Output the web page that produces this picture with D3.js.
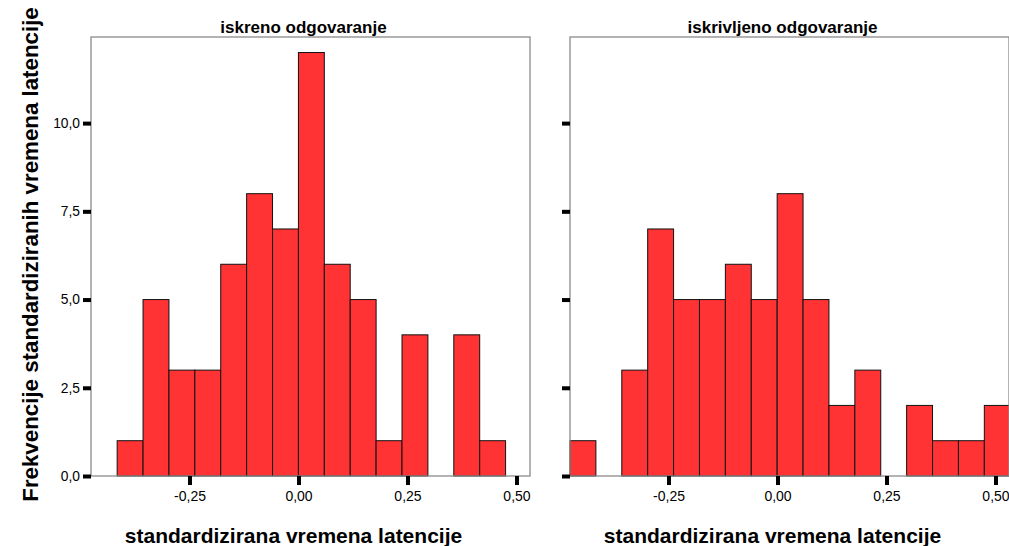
<!DOCTYPE html>
<html><head><meta charset="utf-8">
<script src="https://cdn.jsdelivr.net/npm/d3@7"></script>
<style>body{margin:0;background:#fff}svg{display:block}</style>
</head><body><svg id="c" width="1009" height="546"></svg>
<script>
const panelTitles = ["iskreno odgovaranje", "iskrivljeno odgovaranje"];
const countsIskreno = [1,5,3,3,6,8,7,12,6,5,1,4,0,4,1];
const countsIskrivljeno = [1,0,3,7,5,5,6,5,8,5,2,3,0,2,1,1,2];
const binStart = [-0.416, -0.476];
const binWidth = 0.0594;
const xTicks = [-0.25, 0.00, 0.25, 0.50];
const yTicks = [0, 2.5, 5, 7.5, 10];
const xTitle = "standardizirana vremena latencije";
const yTitle = "Frekvencije standardiziranih vremena latencije";

(function(){
const svg = d3.select("#c");
const fmt = v => d3.format(".2f")(v).replace(".", ",").replace("−","-");
const fmtY = v => d3.format(".1f")(v).replace(".", ",");
const T = 37, B = 476, boxW = 439;
const panelLeft = [91, 570];
const y = d3.scaleLinear().domain([0, 12.44]).range([B, T]);
const data = [countsIskreno, countsIskrivljeno];

svg.append("text").attr("transform", `translate(38,${(T+B)/2 - 2}) rotate(-90)`)
  .attr("text-anchor","middle").attr("font-family","Liberation Sans, Arial").attr("font-weight","bold")
  .attr("font-size",22.3).text(yTitle);

data.forEach((counts, p) => {
  const L = panelLeft[p];
  const x = d3.scaleLinear().domain([-0.476, 0.531]).range([L, L + boxW]);
  const g = svg.append("g");
  const clip = "clip" + p;
  svg.append("clipPath").attr("id", clip).append("rect").attr("x", L-1).attr("y", 0).attr("width", boxW+2).attr("height", 546);
  const bars = g.append("g").attr("clip-path", `url(#${clip})`);
  counts.forEach((c, i) => {
    if (!c) return;
    const x0 = binStart[p] + i * binWidth, x1 = x0 + binWidth;
    bars.append("rect").attr("x", x(x0)).attr("y", y(c))
      .attr("width", x(x1) - x(x0)).attr("height", y(0) - y(c))
      .attr("fill", "#ff3334").attr("stroke", "#111").attr("stroke-width", 1);
  });
  g.append("rect").attr("x", L).attr("y", T).attr("width", boxW).attr("height", B - T)
    .attr("fill", "none").attr("stroke", "#8a8a8a").attr("stroke-width", 1.3);
  const ya = d3.axisLeft(y).tickValues(yTicks).tickSize(8).tickPadding(3).tickFormat(p === 0 ? fmtY : "");
  const yg = g.append("g").attr("transform", `translate(${L},0)`).call(ya);
  yg.select(".domain").remove();
  yg.selectAll(".tick line").attr("stroke", "#000").attr("stroke-width", 4);
  yg.selectAll("text").attr("font-family","Liberation Sans, Arial").attr("font-size",13.8).attr("fill","#000");
  const xa = d3.axisBottom(x).tickValues(xTicks).tickSize(9).tickPadding(6).tickFormat(fmt);
  const xg = g.append("g").attr("transform", `translate(0,${B})`).call(xa);
  xg.select(".domain").remove();
  xg.selectAll(".tick line").attr("stroke", "#000").attr("stroke-width", 4);
  xg.selectAll("text").attr("font-family","Liberation Sans, Arial").attr("font-size",14).attr("fill","#000");
  svg.append("text").attr("x", L + boxW/2 - 7).attr("y", 33).attr("text-anchor","middle")
    .attr("font-family","Liberation Sans, Arial").attr("font-weight","bold").attr("font-size",17).text(panelTitles[p]);
  svg.append("text").attr("x", L + boxW/2 - 17).attr("y", 543).attr("text-anchor","middle")
    .attr("font-family","Liberation Sans, Arial").attr("font-weight","bold").attr("font-size",21).text(xTitle);
});
})();
</script></body></html>
